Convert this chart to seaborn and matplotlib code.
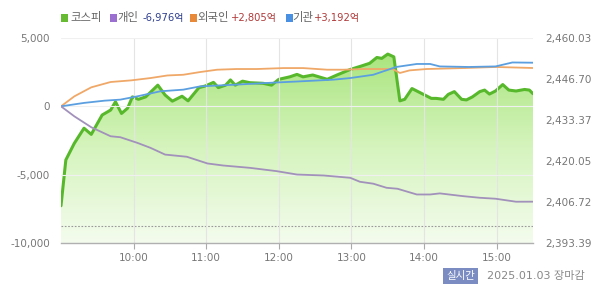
import numpy as np
import pandas as pd
import matplotlib
matplotlib.use("Agg")
import matplotlib.pyplot as plt
import seaborn as sns
from matplotlib.colors import LinearSegmentedColormap
from matplotlib.patches import Rectangle

# ---------------- data ----------------
kospi_times = ["09:00", "09:04", "09:11", "09:19", "09:25", "09:34", "09:41", "09:45", "09:50",
               "09:55", "09:59", "10:04", "10:10", "10:20", "10:26", "10:32", "10:40", "10:45",
               "10:54", "10:59", "11:06", "11:10", "11:16", "11:20", "11:24", "11:30", "11:36",
               "11:47", "11:54", "12:00", "12:09", "12:15", "12:20", "12:28", "12:40", "12:48",
               "12:59", "13:08", "13:15", "13:21", "13:25", "13:30", "13:35", "13:40", "13:44",
               "13:50", "13:58", "14:06", "14:10", "14:16", "14:20", "14:25", "14:31", "14:35",
               "14:40", "14:46", "14:50", "14:54", "14:59", "15:05", "15:10", "15:16", "15:23",
               "15:27", "15:30"]
kospi_values = [2405.5, 2420.4, 2425.8, 2430.7, 2428.7, 2435.0, 2436.6, 2439.3, 2435.5,
                2437.2, 2440.9, 2440.1, 2440.9, 2444.7, 2441.5, 2439.5, 2441.1, 2439.6,
                2443.9, 2444.4, 2445.6, 2443.9, 2444.7, 2446.4, 2444.7, 2446.0, 2445.5,
                2445.3, 2444.7, 2446.6, 2447.4, 2448.2, 2447.4, 2448.0, 2446.6, 2448.0,
                2449.8, 2450.9, 2451.8, 2453.7, 2453.4, 2454.8, 2453.9, 2439.6, 2440.1,
                2443.6, 2442.0, 2440.4, 2440.4, 2440.1, 2441.7, 2442.6, 2440.1, 2439.9,
                2440.9, 2442.6, 2443.1, 2441.8, 2442.8, 2444.9, 2443.1, 2442.8, 2443.3,
                2443.1, 2441.92]
prev_close = 2398.94

individual_times = ["09:00", "09:11", "09:25", "09:41", "09:49", "10:03", "10:14", "10:26",
                    "10:44", "11:01", "11:14", "11:36", "11:58", "12:15", "12:37", "12:59",
                    "13:07", "13:18", "13:29", "13:38", "13:54", "14:05", "14:13", "14:32",
                    "14:46", "14:59", "15:16", "15:30"]
individual_values = [0, -730, -1530, -2190, -2260, -2670, -3040, -3530, -3690, -4180, -4330,
                     -4500, -4740, -4990, -5060, -5230, -5520, -5660, -5960, -6030, -6450,
                     -6450, -6370, -6570, -6690, -6760, -6980, -6976]

foreign_times = ["09:00", "09:11", "09:25", "09:41", "09:58", "10:14", "10:28", "10:41",
                 "10:55", "11:09", "11:25", "11:42", "12:04", "12:20", "12:40", "12:53",
                 "13:10", "13:34", "13:40", "13:48", "14:02", "14:32", "14:59", "15:30"]
foreign_values = [0, 730, 1390, 1780, 1900, 2070, 2260, 2310, 2510, 2680, 2730, 2730, 2800,
                  2800, 2680, 2680, 2730, 2730, 2440, 2630, 2730, 2800, 2880, 2805]

institution_times = ["09:00", "09:19", "09:36", "09:49", "10:03", "10:22", "10:41", "10:55",
                     "11:23", "11:50", "12:18", "12:45", "12:59", "13:18", "13:37", "13:54",
                     "14:05", "14:13", "14:37", "14:59", "15:13", "15:30"]
institution_values = [0, 250, 415, 490, 730, 1100, 1220, 1460, 1580, 1710, 1830, 1950, 2070,
                      2310, 2880, 3100, 3100, 2920, 2880, 2920, 3210, 3192]

left_ticks = [-10000, -5000, 0, 5000]
right_ticks = [2393.39, 2406.72, 2420.05, 2433.37, 2446.70, 2460.03]
x_tick_labels = ["10:00", "11:00", "12:00", "13:00", "14:00", "15:00"]

legend_names = ["코스피", "개인", "외국인", "기관"]
legend_amounts = ["", "-6,976억", "+2,805억", "+3,192억"]
date_text = "2025.01.03 장마감"
badge_text = "실시간"


def to_min(ts):
    out = []
    for t in ts:
        h, m = t.split(":")
        out.append(int(h) * 60 + int(m) - 9 * 60)
    return np.array(out, dtype=float)


sns.set_theme(style="white")
plt.rcParams["font.family"] = ["DejaVu Sans", "Noto Sans CJK KR"]

W, H = 600, 298
fig = plt.figure(figsize=(6.0, 2.98), dpi=100)
fig.patch.set_facecolor("white")
ax = fig.add_axes([61 / W, 1 - 243 / H, (533 - 61) / W, (243 - 38) / H])
ax2 = ax.twinx()
ax.set_zorder(2)
ax.patch.set_visible(False)
ax2.set_zorder(1)

x_min_end = 390

# KOSPI on right axis
kx = to_min(kospi_times)
ky = np.array(kospi_values)
ax2.set_ylim(right_ticks[0], right_ticks[-1])
ax2.set_xlim(0, x_min_end)
poly = ax2.fill_between(kx, ky, right_ticks[0], color="none", lw=0)
cmap = LinearSegmentedColormap.from_list("g", ["#f4fcee", "#d5f4bd", "#a8e47c"])
grad = np.linspace(0, 1, 256).reshape(-1, 1)
im = ax2.imshow(grad, extent=[0, x_min_end, right_ticks[0], 2456], origin="lower",
                aspect="auto", cmap=cmap, zorder=1)
path = poly.get_paths()[0]
im.set_clip_path(path, transform=ax2.transData)
ax2.set_xlim(0, x_min_end)
ax2.set_ylim(right_ticks[0], right_ticks[-1])
sns.lineplot(x=kx, y=ky, ax=ax2, color="#58b82c", linewidth=2.2, zorder=3)
ax2.axhline(prev_close, color="#999999", lw=0.8, ls=(0, (1.5, 1.5)), zorder=2)

# investor lines on left axis
sns.lineplot(x=to_min(foreign_times), y=foreign_values, ax=ax, color="#f0a868", linewidth=1.3)
sns.lineplot(x=to_min(institution_times), y=institution_values, ax=ax, color="#5b9fe0", linewidth=1.3)
sns.lineplot(x=to_min(individual_times), y=individual_values, ax=ax, color="#a291bb", linewidth=1.3)

ax.set_xlim(0, x_min_end)
ax.set_ylim(-10000, 5000)
ax.set_yticks(left_ticks)
ax.set_yticklabels([f"{v:,}" for v in left_ticks], fontsize=7.5, color="#777777")
ax.set_xticks([60, 120, 180, 240, 300, 360])
ax.set_xticklabels(x_tick_labels, fontsize=7.5, color="#777777")
ax.grid(axis="x", color="#e4e4e4", lw=0.8)
ax.grid(axis="y", color="#f0f0f0", lw=0.8)
ax.set_axisbelow(True)
ax.tick_params(axis="y", length=0, pad=8)
ax.tick_params(axis="x", length=4, color="#aaaaaa", width=0.8, pad=3, direction="out", bottom=True)
for s in ["top", "right", "left"]:
    ax.spines[s].set_visible(False)
ax.spines["bottom"].set_color("#b0b0b0")
ax.spines["bottom"].set_linewidth(1.0)
ax.set_xlabel("")
ax.set_ylabel("")

ax2.set_yticks(right_ticks)
ax2.set_yticklabels([f"{v:,.2f}" for v in right_ticks], fontsize=7.5, color="#777777")
ax2.tick_params(axis="y", length=0, pad=9)
for s in ax2.spines.values():
    s.set_visible(False)
ax2.grid(False)
ax2.set_ylabel("")

# legend row at top
sq_colors = ["#66bb33", "#9a6fcf", "#e8893a", "#4a90e2"]
amt_colors = ["#333333", "#2f3f8f", "#b03a3a", "#b03a3a"]
sq_x = [61, 110, 190, 286]
name_x = [70, 117, 197, 292]
amt_x = [None, 143, 231, 314]
ly = 1 - 18 / H
for i in range(4):
    fig.patches.append(Rectangle((sq_x[i] / W, 1 - 21.5 / H), 7 / W, 7 / H,
                                 transform=fig.transFigure, fc=sq_colors[i], ec="none"))
    fig.text(name_x[i] / W, ly, legend_names[i], color="#666666", fontsize=8.2, va="center",
             ha="left", family=["Noto Sans CJK KR", "DejaVu Sans"])
    if amt_x[i] is not None:
        fig.text(amt_x[i] / W, ly, legend_amounts[i], color=amt_colors[i], fontsize=7.2,
                 va="center", ha="left", family=["DejaVu Sans", "Noto Sans CJK KR"])

# bottom right badge + date
fig.text(460.5 / W, 1 - 276 / H, badge_text, color="white", fontsize=7.5, ha="center",
         va="center", family=["Noto Sans CJK KR"],
         bbox=dict(boxstyle="square,pad=0.25", fc="#7a8cc2", ec="none"))
fig.text(487 / W, 1 - 276 / H, date_text, color="#888888", fontsize=8, ha="left",
         va="center", family=["DejaVu Sans", "Noto Sans CJK KR"])

fig.savefig("out.png", dpi=100, facecolor="white")
